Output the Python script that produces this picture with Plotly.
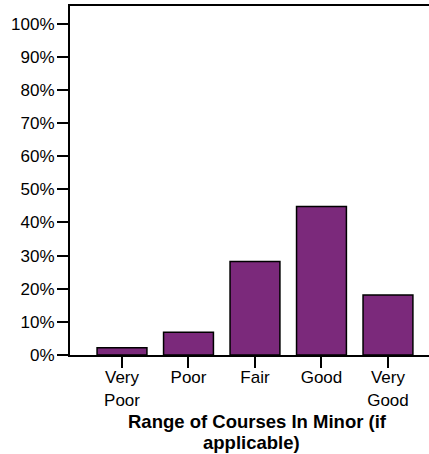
import plotly.graph_objects as go

# Survey ratings for range of courses in minor
categories = ["Very Poor", "Poor", "Fair", "Good", "Very Good"]
tick_labels = ["Very<br>Poor", "Poor", "Fair", "Good", "Very<br>Good"]
percentages = [2.2, 6.9, 28.2, 44.8, 18.1]
y_ticks = [0, 10, 20, 30, 40, 50, 60, 70, 80, 90, 100]

W, H = 429, 454
ML, MR, MT, MB = 70, 0, 6, 99
plot_w = W - ML - MR
plot_h = H - MT - MB

FONT = "Liberation Sans, Arial, sans-serif"
BAR_COLOR = "#7b297b"
TICK_SIZE = 17
TITLE_SIZE = 18.5

x_pos = list(range(len(categories)))

fig = go.Figure(
    go.Bar(
        x=x_pos,
        y=percentages,
        width=0.75,
        marker=dict(color=BAR_COLOR, line=dict(color="black", width=1.5)),
        hoverinfo="skip",
    )
)


def px_to_paper_x(px):
    return (px - ML) / plot_w


def px_to_paper_y(py):
    return (H - MB - py) / plot_h


fig.update_layout(
    width=W,
    height=H,
    margin=dict(l=ML, r=MR, t=MT, b=MB, pad=0),
    paper_bgcolor="white",
    plot_bgcolor="white",
    showlegend=False,
    font=dict(family=FONT, color="black", size=TICK_SIZE),
    xaxis=dict(
        range=[-0.782, 4.617],
        tickmode="array",
        tickvals=x_pos,
        ticktext=tick_labels,
        ticks="outside",
        ticklen=11,
        tickwidth=2,
        tickcolor="black",
        showline=True,
        linecolor="black",
        linewidth=2,
        mirror=True,
        showgrid=False,
        zeroline=False,
        ticklabelstandoff=-5,
        tickfont=dict(size=TICK_SIZE, family=FONT, color="black"),
        fixedrange=True,
    ),
    yaxis=dict(
        range=[0, 105.3],
        tickmode="array",
        tickvals=y_ticks,
        ticktext=[f"{v}%" for v in y_ticks],
        ticks="outside",
        ticklen=11,
        tickwidth=2,
        tickcolor="black",
        showline=True,
        linecolor="black",
        linewidth=2,
        showgrid=False,
        zeroline=False,
        ticklabelstandoff=-1,
        tickfont=dict(size=TICK_SIZE, family=FONT, color="black"),
        fixedrange=True,
    ),
    annotations=[
        dict(
            text="<b>Range of Courses In Minor (if</b>",
            xref="paper", yref="paper",
            x=px_to_paper_x(257), y=px_to_paper_y(421.1),
            xanchor="center", yanchor="middle",
            showarrow=False,
            font=dict(size=TITLE_SIZE, family=FONT, color="black"),
        ),
        dict(
            text="<b>applicable)</b>",
            xref="paper", yref="paper",
            x=px_to_paper_x(251.5), y=px_to_paper_y(442.1),
            xanchor="center", yanchor="middle",
            showarrow=False,
            font=dict(size=TITLE_SIZE, family=FONT, color="black"),
        ),
    ],
)

fig.write_html("out.html", config={"displayModeBar": False})
